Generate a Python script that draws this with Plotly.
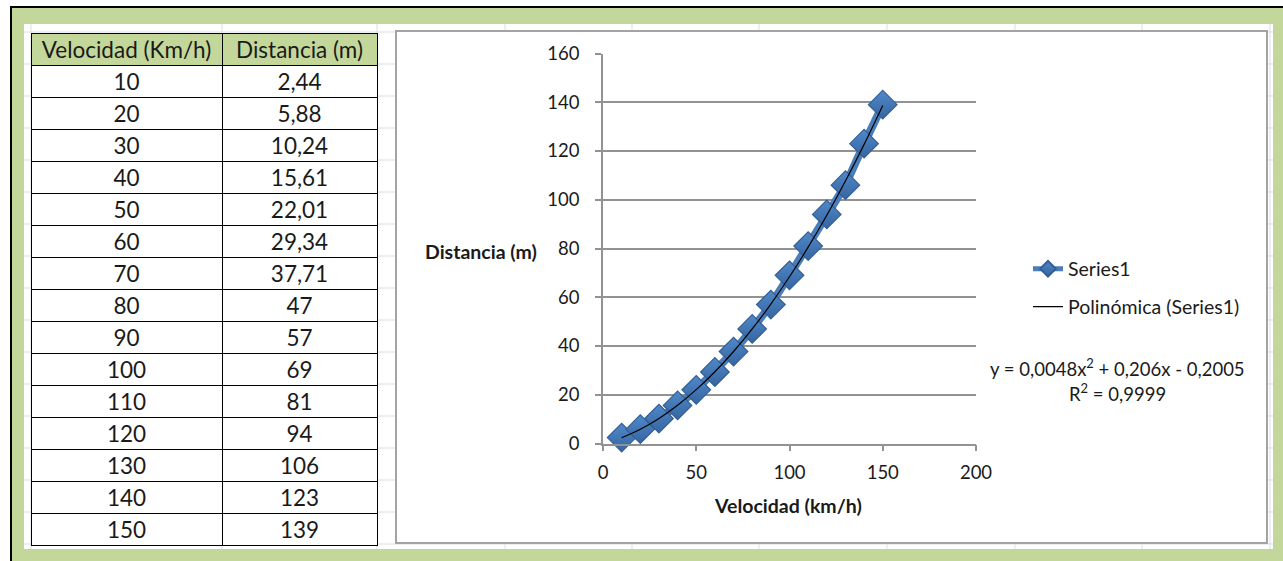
import plotly.graph_objects as go

W, H = 1283, 561

# ---- data ----
velocidad = [10, 20, 30, 40, 50, 60, 70, 80, 90, 100, 110, 120, 130, 140, 150]
distancia = [2.44, 5.88, 10.24, 15.61, 22.01, 29.34, 37.71, 47, 57, 69, 81, 94, 106, 123, 139]
table_headers = ["Velocidad (Km/h)", "Distancia (m)"]
x_ticks = [0, 50, 100, 150, 200]
y_ticks = [0, 20, 40, 60, 80, 100, 120, 140, 160]
trend_coef = [0.0048, 0.206, -0.2005]  # a, b, c of y = a x^2 + b x + c
r_squared = 0.9999
series_name = "Series1"
trend_name = "Polinómica (Series1)"
x_title = "Velocidad (km/h)"
y_title = "Distancia (m)"

FONT = "Lato, 'Open Sans', sans-serif"
TXT = "#1a1a1a"
GREEN = "#c4d79b"
GRID = "#dadde3"
AXIS = "#929292"
TABLE_FONT = 22.5


def px(x):
    return x / W


def py(y):
    return 1 - y / H


def fmt(v):
    return f"{v:g}".replace(".", ",")


a, b, c = trend_coef
trend_y = [a * v * v + b * v + c for v in velocidad]

fig = go.Figure()

# data table (non-breaking spaces keep each header on one line)
fig.add_trace(go.Table(
    domain=dict(x=[px(31), px(377)], y=[py(546), py(33)]),
    columnwidth=[191, 155],
    header=dict(values=[h.replace(" ", "\u00a0") for h in table_headers],
                fill_color=GREEN, align="center",
                line=dict(color="#000000", width=1),
                font=dict(family=FONT, size=TABLE_FONT, color=TXT), height=32),
    cells=dict(values=[[fmt(v) for v in velocidad], [fmt(v) for v in distancia]],
               fill_color="white", align="center",
               line=dict(color="#000000", width=1),
               font=dict(family=FONT, size=TABLE_FONT, color=TXT), height=32),
))

fig.add_trace(go.Scatter(
    x=velocidad, y=distancia, name=series_name, mode="lines+markers",
    line=dict(color="#4a7ebb", width=8),
    marker=dict(symbol="diamond", size=22, color="#5089c9",
                gradient=dict(type="vertical", color="#3565a0"),
                line=dict(color="#335f95", width=1.2)),
    cliponaxis=False, legend="legend",
))
fig.add_trace(go.Scatter(
    x=velocidad, y=trend_y, name=trend_name, mode="lines",
    line=dict(color="#000000", width=1.2, shape="spline"),
    cliponaxis=False, legend="legend2",
))

shapes = []
# green sheet frame
shapes.append(dict(type="rect", xref="paper", yref="paper", x0=px(11), x1=1, y0=0, y1=py(7),
                   fillcolor=GREEN, line=dict(width=0), layer="below"))
shapes.append(dict(type="line", xref="paper", yref="paper", x0=px(10), x1=1, y0=py(7), y1=py(7),
                   line=dict(color="#000000", width=2), layer="below"))
shapes.append(dict(type="line", xref="paper", yref="paper", x0=px(11), x1=px(11), y0=0, y1=py(6),
                   line=dict(color="#000000", width=2), layer="below"))
shapes.append(dict(type="rect", xref="paper", yref="paper", x0=px(24), x1=px(1273), y0=py(549), y1=py(24),
                   fillcolor="white", line=dict(width=0), layer="below"))
# faint spreadsheet gridlines
for gx in [31, 222, 377, 505, 632, 759, 887, 1015, 1142, 1270]:
    shapes.append(dict(type="line", xref="paper", yref="paper", x0=px(gx), x1=px(gx),
                       y0=py(549), y1=py(24), line=dict(color=GRID, width=1), layer="below"))
for k in range(17):
    gy = 32 + 32 * k
    if 24 < gy < 549:
        shapes.append(dict(type="line", xref="paper", yref="paper", x0=px(24), x1=px(1273),
                           y0=py(gy), y1=py(gy), line=dict(color=GRID, width=1), layer="below"))
# chart area
shapes.append(dict(type="rect", xref="paper", yref="paper", x0=px(396), x1=px(1267), y0=py(543), y1=py(31),
                   fillcolor="white", line=dict(color="#a3a3a3", width=2), layer="below"))

annotations = [
    dict(text=f"<b>{x_title}</b>", x=px(788), y=py(505), xref="paper", yref="paper",
         showarrow=False, xanchor="center", yanchor="middle",
         font=dict(family=FONT, size=19.5, color=TXT)),
    dict(text=f"<b>{y_title}</b>", x=px(481), y=py(251), xref="paper", yref="paper",
         showarrow=False, xanchor="center", yanchor="middle",
         font=dict(family=FONT, size=19.5, color=TXT)),
    dict(text=f"y = {fmt(a)}x<sup>2</sup> + {fmt(b)}x - {fmt(-c)}", x=px(1117), y=py(367),
         xref="paper", yref="paper", showarrow=False, xanchor="center", yanchor="middle",
         font=dict(family=FONT, size=18.5, color=TXT)),
    dict(text=f"R<sup>2</sup> = {fmt(r_squared)}", x=px(1117), y=py(392),
         xref="paper", yref="paper", showarrow=False, xanchor="center", yanchor="middle",
         font=dict(family=FONT, size=18.5, color=TXT)),
]

legend_common = dict(xanchor="left", yanchor="middle", bgcolor="rgba(0,0,0,0)", borderwidth=0,
                     font=dict(family=FONT, size=19.5, color=TXT))

fig.update_layout(
    width=W, height=H, margin=dict(l=0, r=0, t=0, b=0, autoexpand=False),
    paper_bgcolor="white", plot_bgcolor="white",
    showlegend=True,
    legend=dict(x=px(1028), y=py(269), itemsizing="constant", **legend_common),
    legend2=dict(x=px(1028), y=py(307), itemsizing="trace", **legend_common),
    shapes=shapes, annotations=annotations,
    xaxis=dict(domain=[px(603), px(976)], range=[0, 200], tickvals=x_ticks,
               showline=True, linecolor=AXIS, linewidth=1.5, ticks="outside", ticklen=6,
               tickcolor=AXIS, tickwidth=1.5, showgrid=False, zeroline=False,
               ticklabelstandoff=6,
               tickfont=dict(family=FONT, size=18.5, color=TXT)),
    yaxis=dict(domain=[py(443.5), py(53.5)], range=[0, 160], tickvals=y_ticks,
               showline=True, linecolor=AXIS, linewidth=1.5, ticks="outside", ticklen=6,
               tickcolor=AXIS, tickwidth=1.5, showgrid=True, gridcolor=AXIS, gridwidth=1.5,
               zeroline=False, ticklabelstandoff=12,
               tickfont=dict(family=FONT, size=18.5, color=TXT)),
)

fig.write_html("out.html")
